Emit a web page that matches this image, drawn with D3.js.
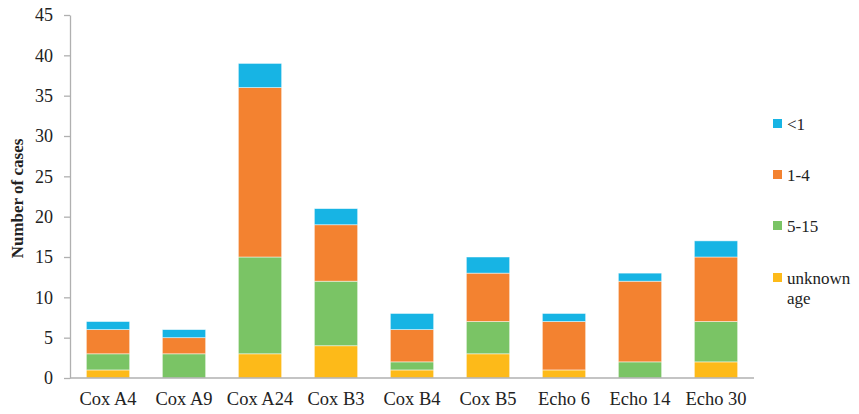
<!DOCTYPE html>
<html>
<head>
<meta charset="utf-8">
<script src="https://cdn.jsdelivr.net/npm/d3@7"></script>
<style>
  body { margin: 0; background: #fff; }
  svg text { font-family: "Liberation Serif", "Times New Roman", serif !important; }
</style>
</head>
<body>
<svg id="chart" width="859" height="414"></svg>
<script>
// Enterovirus serotypes and case counts by age group
const categories = ["Cox A4", "Cox A9", "Cox A24", "Cox B3", "Cox B4", "Cox B5", "Echo 6", "Echo 14", "Echo 30"];
const unknownAge = [1, 0, 3, 4, 1, 3, 1, 0, 2];
const age5to15   = [2, 3, 12, 8, 1, 4, 0, 2, 5];
const age1to4    = [3, 2, 21, 7, 4, 6, 6, 10, 8];
const ageUnder1  = [1, 1, 3, 2, 2, 2, 1, 1, 2];
const yTicks = [0, 5, 10, 15, 20, 25, 30, 35, 40, 45];

const seriesKeys = ["unknown", "5-15", "1-4", "<1"];
const seriesColors = { "unknown": "#FDBA19", "5-15": "#7AC465", "1-4": "#F38230", "<1": "#17B4E4" };

const rows = categories.map((c, i) => ({
  cat: c,
  "unknown": unknownAge[i],
  "5-15": age5to15[i],
  "1-4": age1to4[i],
  "<1": ageUnder1[i]
}));

const svg = d3.select("#chart");
const margin = { left: 70, right: 105, top: 15, bottom: 36 };
const W = 859, H = 414;

const x = d3.scaleBand().domain(categories).range([margin.left, W - margin.right]).paddingInner(0.43).paddingOuter(0.215);
const y = d3.scaleLinear().domain([0, 45]).range([H - margin.bottom, margin.top]);

const stacked = d3.stack().keys(seriesKeys)(rows);

// Bars
svg.append("g").selectAll("g")
  .data(stacked)
  .join("g")
  .attr("fill", d => seriesColors[d.key])
  .selectAll("rect")
  .data(d => d)
  .join("rect")
  .attr("x", d => x(d.data.cat))
  .attr("width", x.bandwidth())
  .attr("y", d => y(d[1]))
  .attr("height", d => y(d[0]) - y(d[1]))
  .attr("stroke", "rgba(255,255,255,0.6)")
  .attr("stroke-width", 0.8);

// Y axis
const yAxis = svg.append("g")
  .attr("transform", `translate(${margin.left},0)`)
  .call(d3.axisLeft(y).tickValues(yTicks).tickSize(6).tickPadding(11).tickSizeOuter(0));
yAxis.select(".domain").attr("stroke", "#b0b0b0").attr("stroke-width", 1.3);
yAxis.selectAll(".tick line").attr("stroke", "#b0b0b0").attr("stroke-width", 1.3);
yAxis.selectAll(".tick text").attr("font-size", 18).attr("fill", "#222");

// X axis
const xAxis = svg.append("g")
  .attr("transform", `translate(0,${y(0)})`)
  .call(d3.axisBottom(x).tickSize(0).tickPadding(14).tickSizeOuter(0));
xAxis.select(".domain").attr("stroke", "#b0b0b0").attr("stroke-width", 1.3)
  .attr("d", `M${margin.left},0H${W - margin.right}`);
xAxis.selectAll(".tick text").attr("font-size", 18.5).attr("fill", "#222");

// Y axis title
svg.append("text")
  .attr("transform", `translate(23,${(margin.top + y(0)) / 2 + 2}) rotate(-90)`)
  .attr("text-anchor", "middle")
  .attr("font-size", 17)
  .attr("font-weight", "bold")
  .attr("fill", "#222")
  .text("Number of cases");

// Legend
const legendItems = [
  { key: "<1", lines: ["<1"], y: 124 },
  { key: "1-4", lines: ["1-4"], y: 175 },
  { key: "5-15", lines: ["5-15"], y: 226 },
  { key: "unknown", lines: ["unknown", "age"], y: 278 }
];
const legend = svg.append("g");
legendItems.forEach(item => {
  legend.append("rect")
    .attr("x", 773).attr("y", item.y - 5)
    .attr("width", 9).attr("height", 9)
    .attr("fill", seriesColors[item.key]);
  const t = legend.append("text")
    .attr("x", 787).attr("y", item.y + 6)
    .attr("font-size", 17).attr("fill", "#222");
  item.lines.forEach((ln, i) => {
    t.append("tspan").attr("x", 787).attr("dy", i === 0 ? 0 : 20).text(ln);
  });
});
</script>
</body>
</html>
